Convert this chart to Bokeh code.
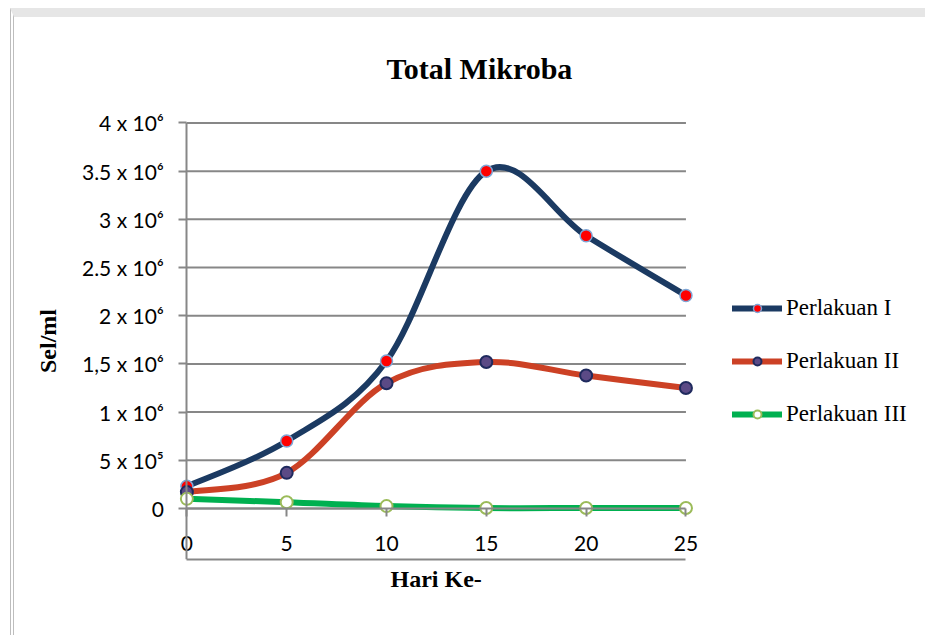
from bokeh.plotting import figure
from bokeh.models import Range1d, FixedTicker, LinearAxis, Legend, LegendItem, ColumnDataSource, Title
from bokeh.embed import file_html
from bokeh.resources import INLINE

# ---- data ----
days = [0, 5, 10, 15, 20, 25]
perlakuan_1 = [230000, 700000, 1530000, 3500000, 2830000, 2210000]
perlakuan_2 = [170000, 370000, 1300000, 1520000, 1380000, 1250000]
perlakuan_3 = [100000, 65000, 25000, 5000, 5000, 5000]
series_names = ["Perlakuan I", "Perlakuan II", "Perlakuan III"]

y_ticks = [0, 500000, 1000000, 1500000, 2000000, 2500000, 3000000, 3500000, 4000000]
y_tick_labels = ["0", "5 x 10\u2075", "1 x 10\u2076", "1,5 x 10\u2076", "2 x 10\u2076",
                 "2.5 x 10\u2076", "3 x 10\u2076", "3.5 x 10\u2076", "4 x 10\u2076"]
x_ticks = [0, 5, 10, 15, 20, 25]


def smooth(xs, ys):
    """Bezier control points for a smoothed line through the data points."""
    n = len(xs)
    d = dict(x0=[], y0=[], x1=[], y1=[], cx0=[], cy0=[], cx1=[], cy1=[])
    for i in range(n - 1):
        a = max(i - 1, 0)
        b = min(i + 2, n - 1)
        d["x0"].append(xs[i]); d["y0"].append(ys[i])
        d["x1"].append(xs[i + 1]); d["y1"].append(ys[i + 1])
        d["cx0"].append(xs[i] + (xs[i + 1] - xs[a]) / 6.0)
        d["cy0"].append(ys[i] + (ys[i + 1] - ys[a]) / 6.0)
        d["cx1"].append(xs[i + 1] - (xs[b] - xs[i]) / 6.0)
        d["cy1"].append(ys[i + 1] - (ys[b] - ys[i]) / 6.0)
    return ColumnDataSource(d)


# plot area spans the whole chart box; axes are pinned at x = 0 / y = 0
x_start, x_end = -8.635, 37.2
y_start, y_end = -529000, 4233000
p = figure(width=915, height=627, output_backend="svg", toolbar_location=None,
           x_range=Range1d(x_start, x_end), y_range=Range1d(y_start, y_end),
           min_border_left=0, min_border_right=0, min_border_top=83, min_border_bottom=85,
           title="Total Mikroba")
p.margin = (8, 0, 0, 10)
p.styles = {"border-top": "9px solid #e6e6e6", "border-left": "4px double #bdbdbd"}
p.outline_line_color = None
p.background_fill_color = "white"
p.border_fill_color = "white"

p.title.text_font = "Liberation Serif"
p.title.text_font_style = "bold"
p.title.text_font_size = "30px"
p.title.text_color = "black"
p.title.align = "left"
p.title.offset = 372
p.title.standoff = 31

grey = "#878787"

# y axis pinned at x = 0
yax = p.yaxis[0]
yax.fixed_location = 0
yax.bounds = (y_start, y_ticks[-1])
yax.ticker = FixedTicker(ticks=y_ticks)
yax.major_label_overrides = {t: l for t, l in zip(y_ticks, y_tick_labels)}
yax.minor_tick_line_color = None
yax.major_tick_in = 0
yax.major_tick_out = 8
yax.major_tick_line_color = grey
yax.major_tick_line_width = 2
yax.axis_line_color = grey
yax.axis_line_width = 2
yax.major_label_text_font = "Lato"
yax.major_label_text_font_size = "21px"
yax.major_label_text_color = "black"
yax.major_label_standoff = 15
yax.axis_label = "Sel/ml"
yax.axis_label_text_font = "Liberation Serif"
yax.axis_label_text_font_style = "bold"
yax.axis_label_text_font_size = "24px"
yax.axis_label_text_color = "black"
yax.axis_label_standoff = 18

# bottom axis: bottom line and tick labels
xax = p.xaxis[0]
xax.ticker = FixedTicker(ticks=x_ticks)
xax.bounds = (x_ticks[0], x_ticks[-1])
xax.minor_tick_line_color = None
xax.major_tick_line_color = None
xax.axis_line_color = grey
xax.axis_line_width = 2
xax.major_label_text_font = "Lato"
xax.major_label_text_font_size = "21px"
xax.major_label_text_color = "black"
xax.major_label_standoff = -30

# axis line and tick marks at y = 0
xax0 = LinearAxis(ticker=FixedTicker(ticks=x_ticks), fixed_location=0,
                  bounds=(x_ticks[0], x_ticks[-1]))
xax0.major_label_overrides = {t: "" for t in x_ticks}
xax0.major_label_text_font_size = "0px"
xax0.minor_tick_line_color = None
xax0.major_tick_in = 0
xax0.major_tick_out = 8
xax0.major_tick_line_color = grey
xax0.major_tick_line_width = 2
xax0.axis_line_color = grey
xax0.axis_line_width = 2
p.add_layout(xax0, "below")

# x axis title
p.add_layout(Title(text="Hari Ke-", align="left", offset=376, standoff=8,
                   text_font="Liberation Serif", text_font_style="bold",
                   text_font_size="24px", text_color="black"), "below")

# horizontal grid lines over the day span only
p.xgrid.grid_line_color = None
p.ygrid.grid_line_color = None
p.segment(x0=x_ticks[0], x1=x_ticks[-1], y0=y_ticks, y1=y_ticks,
          line_color=grey, line_width=2)

styles = [
    dict(line="#1B3A62", fill="#FF0000", edge="#7FA6D6", ew=1.5),
    dict(line="#CC4125", fill="#5B4A86", edge="#1F2A5E", ew=2),
    dict(line="#00B050", fill="#FFFFFF", edge="#9BBB59", ew=2),
]
items = []
for name, vals, st in zip(series_names, [perlakuan_1, perlakuan_2, perlakuan_3], styles):
    br = p.bezier(x0="x0", y0="y0", x1="x1", y1="y1", cx0="cx0", cy0="cy0", cx1="cx1", cy1="cy1",
                  source=smooth(days, vals), line_color=st["line"], line_width=6, line_cap="round")
    sr = p.scatter(days, vals, marker="circle", size=12, fill_color=st["fill"],
                   line_color=st["edge"], line_width=st["ew"])
    items.append(LegendItem(label=name, renderers=[br, sr]))

legend = Legend(items=items, location=(718, 132), orientation="vertical")
legend.border_line_color = None
legend.background_fill_alpha = 0
legend.label_text_font = "Liberation Serif"
legend.label_text_font_size = "23px"
legend.label_text_color = "black"
legend.glyph_width = 50
legend.glyph_height = 20
legend.label_height = 20
legend.spacing = 27
legend.padding = 0
legend.margin = 0
legend.label_standoff = 4
p.add_layout(legend)

open("out.html", "w").write(file_html(p, INLINE))
